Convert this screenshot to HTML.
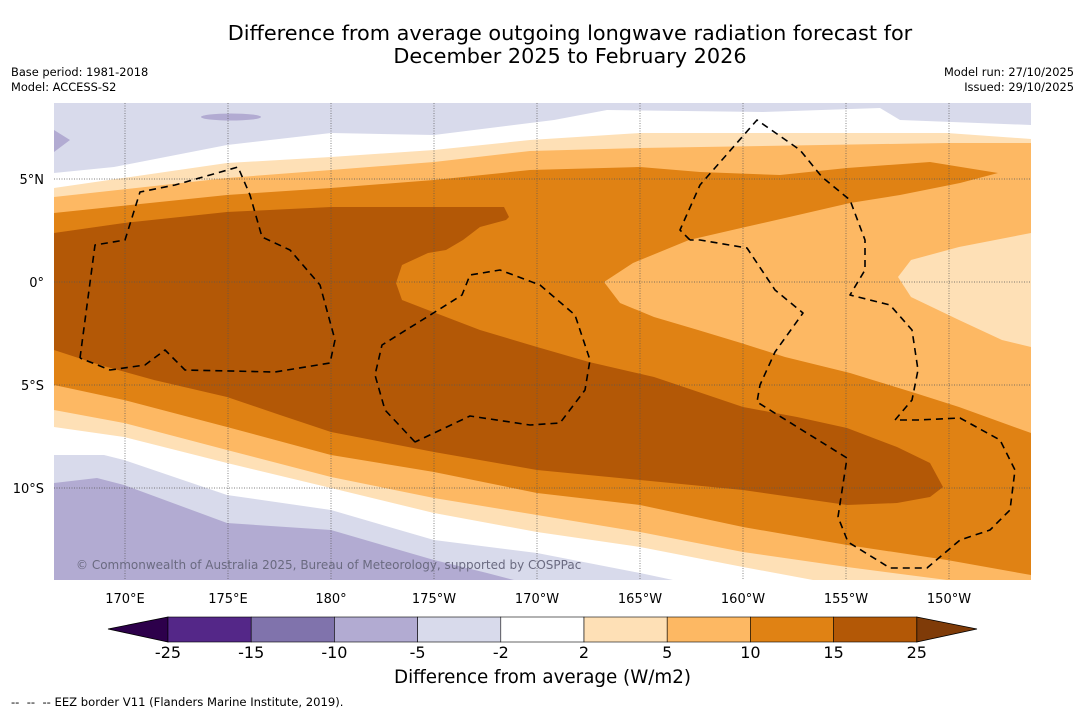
<!DOCTYPE html>
<html><head><meta charset="utf-8"><style>
body{margin:0;background:#fff;font-family:"Liberation Sans","DejaVu Sans",sans-serif;}
#wrap{position:relative;width:1085px;height:713px;overflow:hidden;background:#fff}
.t{position:absolute;white-space:nowrap;color:#000}
</style></head><body>
<div id="wrap">
<div class="t" style="left:0;width:1140px;top:22px;text-align:center;font-size:20.8px;line-height:23px;font-family:'DejaVu Sans',sans-serif">Difference from average outgoing longwave radiation forecast for<br>December 2025 to February 2026</div>
<div class="t" style="left:11px;top:65px;font-size:11.4px;line-height:15px;font-family:'DejaVu Sans',sans-serif">Base period: 1981-2018<br>Model: ACCESS-S2</div>
<div class="t" style="right:11px;top:65px;font-size:11.4px;line-height:15px;text-align:right;font-family:'DejaVu Sans',sans-serif">Model run: 27/10/2025<br>Issued: 29/10/2025</div>
<svg id="map" width="1085" height="713" style="position:absolute;left:0;top:0" xmlns="http://www.w3.org/2000/svg"></svg>
<div class="t" style="left:76px;top:558px;font-size:12px;color:#6a6a80;font-family:'DejaVu Sans',sans-serif">© Commonwealth of Australia 2025, Bureau of Meteorology, supported by COSPPac</div>
<div class="t" style="left:0;width:1085px;top:667px;text-align:center;font-size:18.3px;font-family:'DejaVu Sans',sans-serif">Difference from average (W/m2)</div>
<div class="t" style="left:11px;top:695px;font-size:11.6px;font-family:'DejaVu Sans',sans-serif">-- &nbsp;-- &nbsp;-- EEZ border V11 (Flanders Marine Institute, 2019).</div>
</div>
<script>
const levels=[-25,-15,-10,-5,-2,2,5,10,15,25];
const bandColors=["#542788","#8073ac","#b2abd2","#d8daeb","#ffffff","#fee0b6","#fdb863","#e08214","#b35806"];
const extLow="#2d004b", extHigh="#7f3b08";
const lonTicks=[170,175,180,185,190,195,200,205,210];
const lonLabels=["170°E","175°E","180°","175°W","170°W","165°W","160°W","155°W","150°W"];
const latTicks=[5,0,-5,-10];
const latLabels=["5°N","0°","5°S","10°S"];
const NS="http://www.w3.org/2000/svg";
const svg=document.getElementById('map');
const X0=54,X1=1031,Y0=103,Y1=580;
function xLon(l){return 125+(l-170)*20.6;}
function yLat(l){return 282-l*20.6;}
function mk(tag,attrs,name){const e=document.createElementNS(NS,tag);for(const k in attrs)e.setAttribute(k,attrs[k]);


svg.appendChild(e);return e;}
function P(a){return 'M'+a.map(p=>p[0]+','+p[1]).join('L')+'Z';}
function rev(a){return a.slice().reverse();}
mk('rect',{x:X0,y:Y0,width:X1-X0,height:Y1-Y0,fill:'#fff'},'map-background');
const lavTop=[[54,173],[114,167],[227,145],[331,133],[434,135],[554,120],[607,110],[763,112],[880,108],[900,120],[1031,125]];
mk('path',{d:P([[54,103],[1031,103]].concat(rev(lavTop))),fill:'#d8daeb'},'negative-region-north');
mk('path',{d:P([[54,130],[70,140],[54,152]]),fill:'#b2abd2'},'negative-blob-west');
mk('ellipse',{cx:231,cy:117,rx:30,ry:3.5,fill:'#b2abd2'},'negative-blob-north');
const lavBot=[[54,455],[104,455],[124,460],[227,495],[331,510],[434,540],[537,553],[640,573],[673,580]];
mk('path',{d:P(lavBot.concat([[54,580]])),fill:'#d8daeb'},'negative-region-south');
const purBot=[[54,483],[97,478],[124,485],[227,523],[331,530],[434,560],[487,573],[514,580]];
mk('path',{d:P(purBot.concat([[54,580]])),fill:'#b2abd2'},'strong-negative-region-south');
const peachTop=[[54,188],[227,163],[331,157],[434,150],[530,140],[640,133],[847,133],[947,133],[1031,139]];
const peachBot=[[54,427],[124,437],[227,463],[331,488],[434,513],[537,532],[640,547],[743,567],[813,580]];
mk('path',{d:P(peachTop.concat([[1031,580]],rev(peachBot))),fill:'#fee0b6'},'band-2-5');
const loTop=[[54,197],[227,178],[331,170],[434,162],[530,151],[640,148],[947,143],[1031,143]];
const loBot=[[54,410],[124,423],[227,450],[331,477],[434,498],[537,515],[640,532],[743,552],[847,567],[947,580]];
mk('path',{d:P(loTop.concat([[1031,580]],rev(loBot))),fill:'#fdb863'},'band-5-10');
const orTop=[[54,213],[227,195],[331,188],[434,180],[530,170],[640,167],[700,172],[780,175],[847,168],[930,162],[998,173]];
const orBulge=[[960,183],[900,195],[850,203],[785,218],[741,228],[689,240],[633,263],[604,282],[620,303],[654,317],[698,330],[741,343],[785,357],[850,373],[915,393],[959,407],[1031,433],[1031,575]];
const orBot=[[54,385],[124,400],[227,427],[331,455],[434,472],[537,493],[640,505],[743,527],[847,545],[947,560],[1031,575]];
mk('path',{d:P(orTop.concat(orBulge,rev(orBot))),fill:'#e08214'},'band-10-15');
const pb=[[1031,233],[959,247],[911,260],[898,277],[911,297],[959,320],[1002,340],[1031,347]];
mk('path',{d:P(pb),fill:'#fee0b6'},'band-2-5-east');
const br=[[54,233],[124,223],[227,212],[331,207],[504,207],[509,217],[506,220],[480,227],[463,240],[446,250],[428,253],[402,265],[396,283],[402,300],[433,312],[480,330],[537,347],[589,362],[654,377],[663,380],[743,407],[797,417],[847,428],[897,447],[930,463],[943,487],[930,497],[897,503],[847,505],[743,490],[640,480],[537,470],[434,452],[331,432],[280,415],[227,397],[154,380],[100,365],[54,350]];
mk('path',{d:P(br),fill:'#b35806'},'band-15-25');
lonTicks.forEach((l,i)=>{mk('line',{x1:xLon(l),x2:xLon(l),y1:Y0,y2:Y1,stroke:'#555','stroke-width':0.7,'stroke-dasharray':'1,1.5'},'lon-gridline');
const t=mk('text',{x:xLon(l),y:603,'text-anchor':'middle','font-size':13,'font-family':'DejaVu Sans, sans-serif'},'lon-label');t.textContent=lonLabels[i];});
latTicks.forEach((l,i)=>{mk('line',{x1:X0,x2:X1,y1:yLat(l),y2:yLat(l),stroke:'#555','stroke-width':0.7,'stroke-dasharray':'1,1.5'},'lat-gridline');
const t=mk('text',{x:44,y:yLat(l)+5,'text-anchor':'end','font-size':13,'font-family':'DejaVu Sans, sans-serif'},'lat-label');t.textContent=latLabels[i];});
const eez=[
[[80,358],[95,245],[125,240],[140,192],[175,185],[238,167],[250,195],[262,237],[290,250],[320,285],[335,340],[330,363],[275,372],[185,370],[165,350],[145,365],[110,370],[80,358]],
[[415,442],[385,410],[375,375],[382,345],[435,312],[462,295],[470,275],[500,270],[540,285],[575,315],[590,360],[585,390],[560,423],[530,425],[470,416],[415,442]],
[[690,240],[680,230],[700,185],[757,120],[800,150],[822,177],[850,200],[865,240],[865,270],[850,295],[890,305],[912,330],[918,370],[912,400],[895,420],[918,420],[960,418],[1000,440],[1015,470],[1010,510],[990,530],[960,540],[927,568],[890,568],[848,542],[838,517],[847,458],[757,402],[760,385],[775,352],[803,313],[775,290],[747,248],[700,240],[690,240]]];
eez.forEach(a=>mk('path',{d:'M'+a.map(p=>p.join(',')).join('L'),fill:'none',stroke:'#000','stroke-width':1.6,'stroke-dasharray':'7,5','stroke-linejoin':'round'},'eez-border'));
const cbX0=168,cbW=83.2,cbY=617,cbH=25;
mk('path',{d:`M108,629 L${cbX0},${cbY} L${cbX0},${cbY+cbH}Z`,fill:extLow,stroke:'#000','stroke-width':0.8},'colorbar-extend-low');
bandColors.forEach((c,i)=>{mk('rect',{x:cbX0+i*cbW,y:cbY,width:cbW,height:cbH,fill:c,stroke:'#000','stroke-width':0.6},'colorbar-swatch');});
const xe=cbX0+bandColors.length*cbW;
mk('path',{d:`M${xe},${cbY} L977,629 L${xe},${cbY+cbH}Z`,fill:extHigh,stroke:'#000','stroke-width':0.8},'colorbar-extend-high');
levels.forEach((v,i)=>{const t=mk('text',{x:cbX0+i*cbW,y:658,'text-anchor':'middle','font-size':16,'font-family':'DejaVu Sans, sans-serif'},'colorbar-tick-label');t.textContent=v;});
</script>
</body></html>
